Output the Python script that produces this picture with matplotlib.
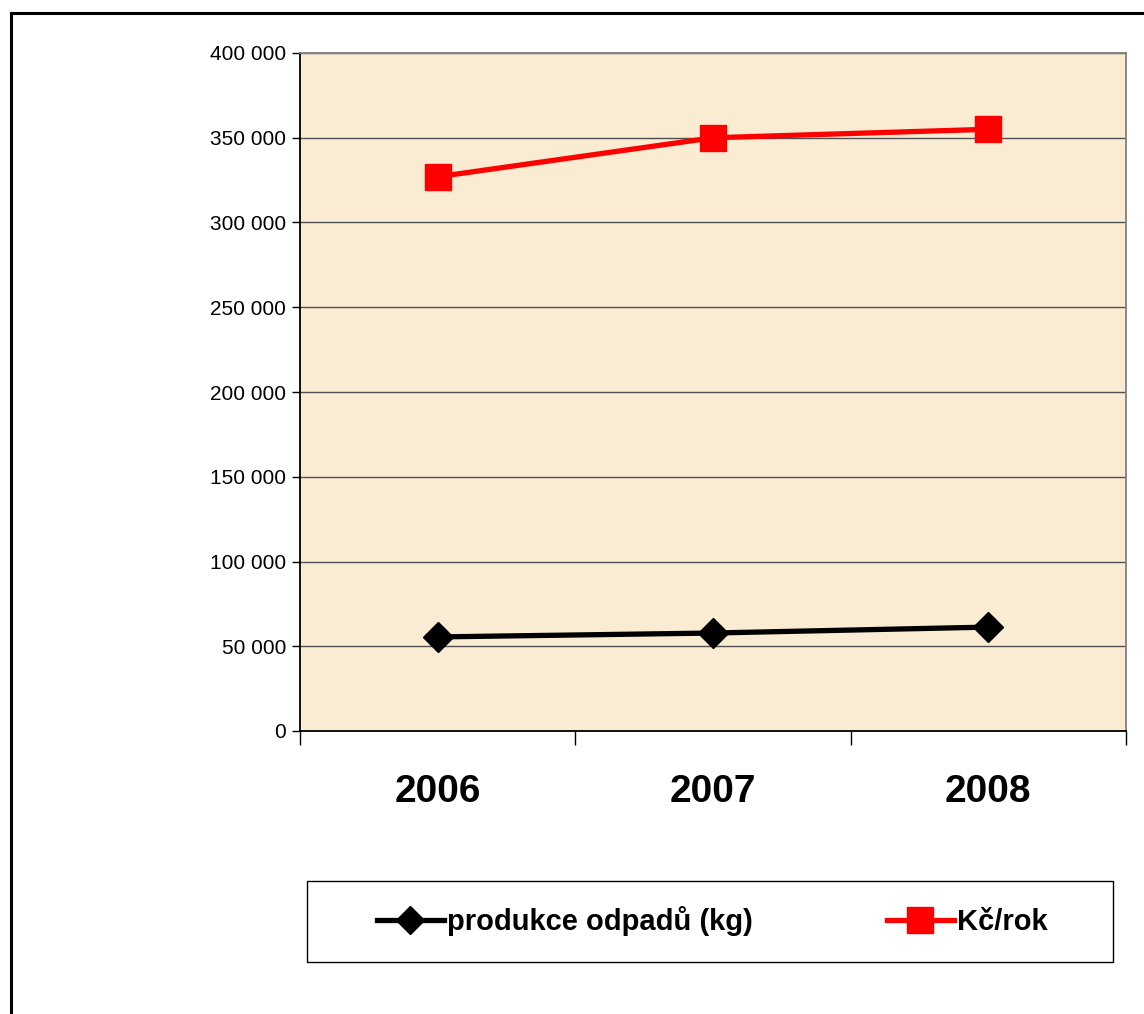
import matplotlib.pyplot as plt
from matplotlib.lines import Line2D
from matplotlib.patches import Rectangle
from matplotlib.ticker import FuncFormatter, FixedLocator

plt.rcParams['font.family'] = ['Liberation Sans', 'DejaVu Sans']

# data
years = ['2006', '2007', '2008']
produkce = [55500, 57800, 61300]
kc_rok = [327000, 350000, 355000]
y_ticks = [0, 50000, 100000, 150000, 200000, 250000, 300000, 350000, 400000]

W, H = 1144, 1014
fig = plt.figure(figsize=(W / 100, H / 100), dpi=100)
ax = fig.add_axes([300 / W, 1 - 731 / H, 826 / W, 678 / H])
ax.set_facecolor('#FAECD2')

x = list(range(len(years)))
ax.plot(x, produkce, color='black', lw=3.8, marker='D', markersize=15,
        label='produkce odpadů (kg)', zorder=3)
ax.plot(x, kc_rok, color='#FF0000', lw=3.8, marker='s', markersize=19,
        label='Kč/rok', zorder=3)

ax.set_xlim(-0.5, len(years) - 0.5)
ax.set_ylim(0, 400000)

# y axis
ax.yaxis.set_major_locator(FixedLocator(y_ticks))
ax.yaxis.set_major_formatter(FuncFormatter(lambda v, p: '{:,.0f}'.format(v).replace(',', ' ')))
ax.tick_params(axis='y', direction='out', length=6, width=1, color='black',
               labelsize=15, pad=4)
ax.grid(axis='y', color='#505050', lw=1)
ax.set_axisbelow(True)

# x axis: ticks between categories, labels centred
ax.set_xticks([i - 0.5 for i in range(len(years) + 1)])
ax.set_xticklabels([])
ax.set_xticks(x, minor=True)
ax.set_xticklabels(years, minor=True, fontsize=28, fontweight='bold')
ax.tick_params(axis='x', which='major', direction='out', length=10, width=1, color='black')
ax.tick_params(axis='x', which='minor', length=0, pad=31)

ax.spines['left'].set_color('black')
ax.spines['bottom'].set_color('black')
ax.spines['top'].set_color('#808080')
ax.spines['right'].set_color('#808080')
for s in ax.spines.values():
    s.set_linewidth(1.3)

# legend box
fig.patches.append(Rectangle((307 / W, 1 - 962 / H), 806 / W, 81 / H,
                             transform=fig.transFigure, facecolor='white',
                             edgecolor='black', lw=1))
fig.legend(loc='center', bbox_to_anchor=(712 / W, 1 - 921 / H), ncol=2,
           frameon=False, prop={'size': 21, 'weight': 'bold'},
           handlelength=2.3, handletextpad=0.1, columnspacing=4.6,
           markerscale=0.95)

# outer frame (cropped at right and bottom)
fig.lines.append(Line2D([11 / W, 11 / W], [0, 1 - 13 / H], transform=fig.transFigure,
                        color='black', lw=2.2))
fig.lines.append(Line2D([11 / W, 1], [1 - 13 / H, 1 - 13 / H], transform=fig.transFigure,
                        color='black', lw=2.2))

plt.savefig('out.png', dpi=100)
